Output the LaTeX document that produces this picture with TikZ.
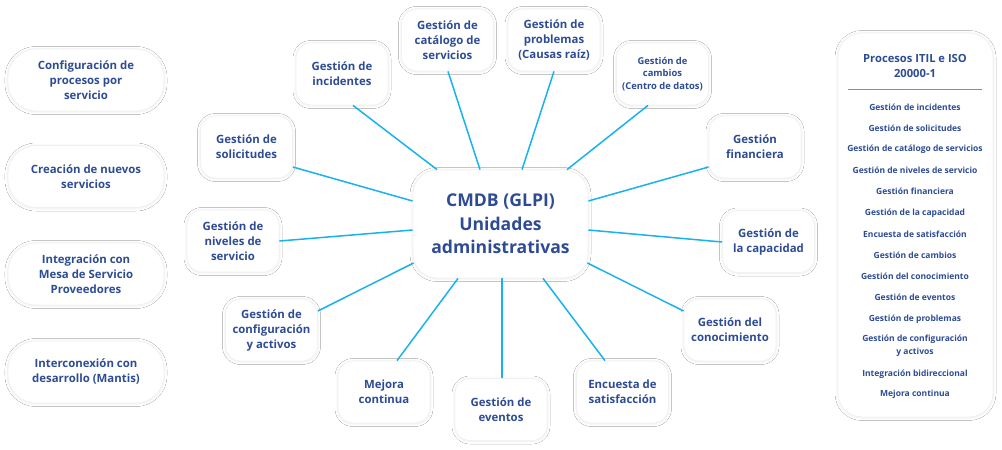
\documentclass[tikz,border=0pt]{standalone}
\usepackage{fontspec}
\setmainfont{Open Sans}
\usetikzlibrary{shadows.blur}
\definecolor{tb}{HTML}{2E4C94}
\definecolor{ln}{HTML}{19B2F0}
\definecolor{sh}{HTML}{F1F1F1}
\tikzset{
  card/.style={rectangle, fill=white, draw=sh, line width=0.8pt, align=center, text=tb, inner sep=0pt,
    blur shadow={shadow xshift=0pt, shadow yshift=-0.5pt, shadow blur radius=3pt, shadow opacity=9}},
  sat/.style={card, rounded corners=15pt, minimum width=92pt, minimum height=62pt, font=\bfseries\fontsize{11.4}{15}\selectfont},
  side/.style={card, rounded corners=28pt, minimum width=156pt, minimum height=62pt, font=\bfseries\fontsize{11.4}{15}\selectfont},
  hub/.style={card, rounded corners=24pt, minimum width=175pt, minimum height=108pt, font=\bfseries\fontsize{17.6}{23.5}\selectfont},
  item/.style={text=tb, align=center, inner sep=0pt, font=\bfseries\fontsize{8.5}{13}\selectfont},
  link/.style={draw=ln, line width=1.5pt},
}
\begin{document}
\begin{tikzpicture}[x=1pt,y=-1pt]
\useasboundingbox (0,0) rectangle (1002,450);
\fill[white] (0,0) rectangle (1002,450);

% left column
\node[side] (conf) at (86,80) {Configuración de\\procesos por\\servicio};
\node[side] (crea) at (86,176.5) {Creación de nuevos\\servicios};
\node[side] (integ) at (86,274) {Integración con\\Mesa de Servicio\\Proveedores};
\node[side] (inter) at (86,372) {Interconexión con\\desarrollo (Mantis)};

% satellites
\node[sat] (inc) at (342,74) {Gestión de\\incidentes};
\node[sat] (cat) at (447.5,40) {Gestión de\\catálogo de\\servicios};
\node[sat] (sol) at (246.5,147) {Gestión de\\solicitudes};
\node[sat] (prob) at (554,40) {Gestión de\\problemas\\(Causas raíz)};
\node[sat, font=\bfseries\fontsize{9.4}{12.5}\selectfont] (camb) at (662.5,74) {Gestión de\\cambios\\(Centro de datos)};
\node[sat] (fin) at (755,147) {Gestión\\financiera};
\node[sat] (cap) at (768.5,241.5) {Gestión de\\la capacidad};
\node[sat] (con) at (730,330) {Gestión del\\conocimiento};
\node[sat] (enc) at (622.5,392) {Encuesta de\\satisfacción};
\node[sat] (eve) at (501,409.5) {Gestión de\\eventos};
\node[sat] (mej) at (384,392) {Mejora\\continua};
\node[sat] (cfg) at (271.5,330) {Gestión de\\configuración\\y activos};
\node[sat] (niv) at (233,241) {Gestión de\\niveles de\\servicio};

% hub
\node[hub] (ctr) at (500.5,224) {CMDB (GLPI)\\Unidades\\administrativas};

% connectors
\draw[link] ([xshift=-63.5pt]ctr.north) -- ([xshift=11pt]inc.south);
\draw[link] ([xshift=-20.5pt]ctr.north) -- ([xshift=0.5pt]cat.south);
\draw[link] ([yshift=23pt]ctr.west) -- ([yshift=-20pt]sol.east);
\draw[link] ([xshift=21.5pt]ctr.north) -- (prob.south);
\draw[link] ([xshift=66.5pt]ctr.north) -- ([xshift=-14.5pt]camb.south);
\draw[link] ([yshift=23pt]ctr.east) -- ([yshift=-20pt]fin.west);
\draw[link] ([yshift=-6pt]ctr.east) -- ([yshift=-0.5pt]cap.west);
\draw[link] ([yshift=-39pt,xshift=-1pt]ctr.east) -- ([yshift=19pt]con.west);
\draw[link] ([xshift=42.5pt]ctr.south) -- ([xshift=-17.5pt]enc.north);
\draw[link] ([xshift=1.5pt]ctr.south) -- ([xshift=1pt]eve.north);
\draw[link] ([xshift=-42.5pt]ctr.south) -- ([xshift=13pt]mej.north);
\draw[link] ([yshift=-39pt,xshift=1pt]ctr.west) -- ([yshift=19pt]cfg.east);
\draw[link] ([yshift=-6pt]ctr.west) -- (niv.east);

% right panel
\node[card, rounded corners=24pt, minimum width=155pt, minimum height=384pt] (panel) at (915.5,225) {};
\node[text=tb, align=center, inner sep=0pt, font=\bfseries\fontsize{11.2}{15}\selectfont] (ptitle) at (915,65.5) {Procesos ITIL e ISO\\20000-1};
\coordinate (rl) at (848,89.5);
\coordinate (rr) at (982,89.5);
\draw[black!45, line width=0.6pt] (rl) -- (rr);
\node[item] (i1) at (915,107) {Gestión de incidentes};
\node[item] (i2) at (915,128) {Gestión de solicitudes};
\node[item] (i3) at (915,149) {Gestión de catálogo de servicios};
\node[item] (i4) at (915,170) {Gestión de niveles de servicio};
\node[item] (i5) at (915,191.5) {Gestión financiera};
\node[item] (i6) at (915,213) {Gestión de la capacidad};
\node[item] (i7) at (915,234) {Encuesta de satisfacción};
\node[item] (i8) at (915,255.5) {Gestión de cambios};
\node[item] (i9) at (915,276.5) {Gestión del conocimiento};
\node[item] (i10) at (915,297.5) {Gestión de eventos};
\node[item] (i11) at (915,319) {Gestión de problemas};
\node[item] (i12) at (915,346) {Gestión de configuración\\y activos};
\node[item] (i13) at (915,374) {Integración bidireccional};
\node[item] (i14) at (915,394.5) {Mejora continua};
\end{tikzpicture}
\end{document}
